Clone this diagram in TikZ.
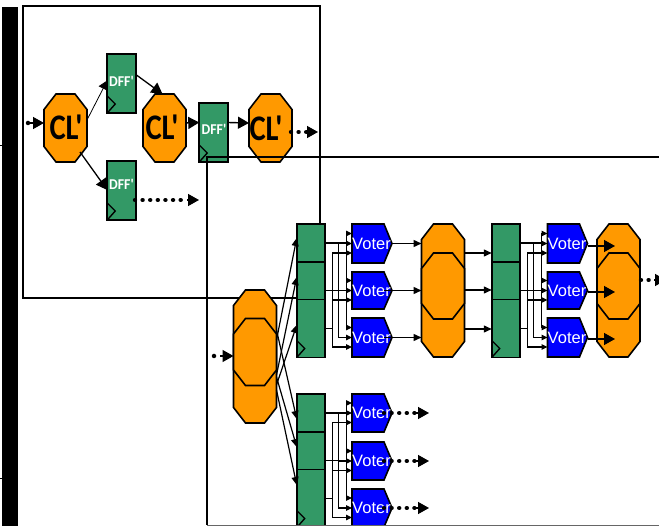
\documentclass[tikz,border=0pt]{standalone}
\usepackage{fontspec}
\setmainfont{Liberation Sans}
\newfontfamily\carl{Carlito}
\usetikzlibrary{arrows.meta,calc}
\definecolor{dgreen}{HTML}{339966}
\definecolor{dorange}{HTML}{FF9900}
\tikzset{
  ln/.style={line width=1.4pt,draw=black},
  arr/.style={ln,-{Triangle[length=8pt,width=7pt]}},
  sarr/.style={line width=1.2pt,draw=black,-{Triangle[length=6pt,width=5.5pt]}},
  barr/.style={line width=1.4pt,draw=black,-{Triangle[length=11pt,width=12pt]}},
  thinarr/.style={line width=.8pt,draw=black,-{Triangle[length=9pt,width=10pt]}},
  dots/.style={line width=4.4pt,draw=black,line cap=round,dash pattern=on .01pt off 7.6pt},
  octsh/.style={draw=black,line width=1.6pt,fill=dorange},
  anch/.style={inner sep=0pt,outer sep=0pt},
  cell/.style={draw=black,line width=1.6pt,fill=dgreen,inner sep=0pt,outer sep=0pt,minimum width=28.5pt},
  cltext/.style={font=\carl\bfseries\fontsize{36}{36}\selectfont,inner sep=0pt,xscale=.85},
  dfftext/.style={font=\carl\bfseries\fontsize{15}{15}\selectfont,text=white,inner sep=0pt,xscale=.92},
  votertext/.style={font=\fontsize{16.5}{16.5}\selectfont,text=white,inner sep=0pt},
  vsh/.style={draw=black,line width=1.6pt,fill=blue},
  vanchor/.style={inner sep=0pt,outer sep=0pt,minimum width=40pt,minimum height=38pt},
}
% octagon: #1 name, #2 x-centre, #3 y-centre, #4 half height
\newcommand\octa[4]{%
  \draw[octsh] ({#2-21.5},{#3-#4+15.5}) -- ({#2-9.5},{#3-#4}) -- ({#2+9.5},{#3-#4}) -- ({#2+21.5},{#3-#4+15.5})
     -- ({#2+21.5},{#3+#4-15.5}) -- ({#2+9.5},{#3+#4}) -- ({#2-9.5},{#3+#4}) -- ({#2-21.5},{#3+#4-15.5}) -- cycle;
  \node[anch,minimum width=43pt,minimum height={2*#4}] (#1) at (#2,#3) {};
}
% voter: #1 name, #2 x-centre, #3 y-centre, #4 half height
\newcommand\voter[4]{%
  \draw[vsh] ({#2-20},{#3-#4}) -- ({#2+12},{#3-#4}) -- ({#2+20},#3) -- ({#2+12},{#3+#4}) -- ({#2-20},{#3+#4}) -- cycle;
  \node[vanchor] (#1) at (#2,#3) {};
  \node[votertext] (#1t) at ({#2-.5},#3) {Voter};
}
\newcommand\clk[1]{\draw[ln] (#1.south west) ++(0,-17) -- ++(8,8) -- ++(-8,9);}
% wiring between stack #1 (cells #11..3) and voters #2 (#21..3)
\newcommand\wirebank[2]{%
  \coordinate (#1o1) at (#11.east);
  \coordinate (#1o2) at ($(#12.east)+(0,9.5)$);
  \coordinate (#1o3) at (#13.east);
  \foreach \v in {1,2,3}{
    \coordinate (#2\v a) at ($(#2\v.west)+(0,-10)$);
    \coordinate (#2\v b) at (#2\v.west);
    \coordinate (#2\v c) at ($(#2\v.west)+(0,9.5)$);
  }
  \path (#1o1) ++(21,0) coordinate (#1x1);
  \path (#1o2) ++(13,0) coordinate (#1x2);
  \path (#1o3) ++(7,0) coordinate (#1x3);
  \draw[ln] (#1o1) -- (#1x1);
  \draw[ln] (#1o2) -- (#1x2);
  \draw[ln] (#1o3) -- (#1x3);
  \draw[line width=1.2pt] (#1x1 |- #21a) -- (#1x1 |- #23a);
  \draw[line width=1.2pt] (#1x2 |- #21b) -- (#1x2 |- #23b);
  \draw[line width=1.2pt] (#1x3 |- #21c) -- (#1x3 |- #23c);
  \foreach \v in {1,2,3}{
    \draw[sarr] (#1x1 |- #2\v a) -- (#2\v a);
    \draw[sarr] (#1x2 |- #2\v b) -- (#2\v b);
    \draw[sarr] (#1x3 |- #2\v c) -- (#2\v c);
  }
}
% a stack of three cells #1 at x centre #2, top #3
\newcommand\stack[3]{%
  \node[cell,minimum height=38pt] (#11) at (#2,{#3+19}) {};
  \node[cell,minimum height=37.5pt] (#12) at (#2,{#3+56.75}) {};
  \node[cell,minimum height=58pt] (#13) at (#2,{#3+104.5}) {};
}
\begin{document}
\begin{tikzpicture}[x=1pt,y=-1pt]
\useasboundingbox (0,0) rectangle (659,526);
\begin{scope}
\clip (0,0) rectangle (659,526);
% black bar and ticks
\fill[black] (2,7) rectangle (18,526);
\draw[line width=.6pt] (0,145) -- (2,145);
\draw[line width=.6pt] (0,478) -- (2,478);
% upper frame
\draw[line width=1.4pt] (320,224) -- (320,6) -- (23,6) -- (23,298) -- (297,298);
% top-left part
\octa{c1}{65.5}{128}{34}
\octa{c2}{164.5}{128}{34}
\octa{c3}{270.5}{128}{34}
\node[cltext] (c1t) at (66,127) {CL'};
\node[cltext] (c2t) at (162,127) {CL'};
\node[cltext] (c3t) at (266,128) {CL'};
\node[cell,minimum height=59pt] (d1) at (121.5,83.5) {};
\node[cell,minimum height=59pt] (d2) at (121.5,190.5) {};
\node[cell,minimum height=59pt] (d3) at (213.5,132.5) {};
\node[dfftext] (d1t) at (121.5,81) {DFF'};
\node[dfftext] (d2t) at (121.5,184) {DFF'};
\node[dfftext] (d3t) at (214,129) {DFF'};
\clk{d1}\clk{d2}\clk{d3}
\coordinate (in1) at (28,123);
\node[fill=black,circle,inner sep=0pt,minimum size=4.5pt] (in1d) at (in1) {};
\draw[barr] (in1) -- (c1.west |- in1);
\draw[thinarr] ($(c1.east)+(0,-8)$) -- ($(d1.west)+(0,-3)$);
\draw[barr,line width=1.3pt] ($(c1.south east)+(-7,-10)$) -- ($(d2.west)+(0,-0.5)$);
\draw[barr,line width=1.3pt] ($(d1.east)+(0,-9)$) -- ($(c2.north)+(-2,0)$);
\draw[barr] ($(c2.east)+(0,-5)$) -- ($(d3.west)+(0,-10)$);
\draw[barr] ($(d3.east)+(0,-10)$) -- ($(c3.west)+(0,-5)$);
\coordinate (c3o) at (318,132);
\coordinate (c3om) at (307,132);
\draw[dots] (291,132) -- (c3om);
\draw[barr] (c3om) -- (c3o);
\coordinate (d2o) at (199,200);
\coordinate (d2om) at (187,200);
\draw[dots] (135,200) -- (d2om);
\draw[barr] (d2om) -- (d2o);
% big left octagon
\octa{bo}{255}{356.5}{66.5}
\octa{bi}{255}{352}{33.5}
\coordinate (bin) at (220,356);
\node[fill=black,circle,inner sep=0pt,minimum size=4.5pt] (bind) at (214,356) {};
\draw[barr] (bin) -- (bi.west |- bin);
% stacks
\stack{sa}{311}{224}
\stack{sb}{311}{394}
\stack{sc}{506}{224}
\clk{sa3}\clk{sc3}
\clk{sb3}
% voters
\voter{va1}{372}{243.5}{19.5}
\voter{va2}{372}{290.5}{18.5}
\voter{va3}{372}{337.5}{19.5}
\voter{vb1}{372}{413}{19}
\voter{vb2}{372}{461}{19}
\voter{vb3}{372}{508}{19}
\voter{vc1}{567.5}{243.5}{19.5}
\voter{vc2}{567.5}{290.5}{18.5}
\voter{vc3}{567.5}{337.5}{19.5}
\wirebank{sa}{va}
\wirebank{sb}{vb}
\wirebank{sc}{vc}
% fan out from big octagon
\draw[arr,line width=1.2pt] (bo.east |- 0,340) -- (sa1.west |- 0,238);
\draw[arr,line width=1.2pt] (bo.east |- 0,375) -- (sa2.west |- 0,277);
\draw[arr,line width=1.2pt] (bo.east |- 0,385) -- (sa3.west |- 0,325);
\draw[arr,line width=1.2pt] (bo.east |- 0,330) -- (sb1.west |- 0,419);
\draw[arr,line width=1.2pt] (bo.east |- 0,377) -- (sb2.west |- 0,447);
\draw[arr,line width=1.2pt] (bo.east |- 0,390) -- (sb3.west |- 0,485);
% middle octagon
\octa{mo}{443}{290.5}{66.5}
\octa{mi}{443}{286}{33}
\draw[arr] (va1.east) -- (mo.west |- va1.east);
\draw[arr] ($(va2.east)+(-8,0)$) -- (mo.west |- va2.east);
\draw[arr] ($(va3.east)+(-8,0)$) -- (mo.west |- va3.east);
\draw[arr] (mo.east |- 0,253) -- (sc1.west |- 0,253);
\draw[arr] (mo.east |- 0,290) -- (sc2.west |- 0,290);
\draw[arr] (mo.east |- 0,329) -- (sc3.west |- 0,329);
% right octagon
\octa{ro}{618.5}{290.5}{66.5}
\octa{ri}{618.5}{286}{33}
\coordinate (rt1) at (615,246);
\coordinate (rt2) at (615,292);
\coordinate (rt3) at (615,339);
\draw[barr] (vc1.east |- rt1) -- (rt1);
\draw[barr] (vc2.east |- rt2) -- (rt2);
\draw[barr] (vc3.east |- rt3) -- (rt3);
\coordinate (ro1) at (641,280);
\coordinate (ro2) at (649,280);
\draw[dots] (ro1) -- (ro2);
\coordinate (ro3) at (666,280);
\draw[barr] (654,280) -- (ro3);
% dotted outputs of the lower voters
\foreach \v in {1,2,3}{
  \coordinate (e\v) at ($(vb\v.east)+(37,0)$);
  \coordinate (m\v) at ($(vb\v.east)+(24,0)$);
  \draw[dots] ($(vb\v.east)+(-8,0)$) -- (m\v);
  \draw[barr] (m\v) -- (e\v);
}
% lower frame drawn over everything
\draw[line width=1.3pt] (660,157) -- (207,157) -- (207,525);
\draw[line width=.8pt,draw=black!60] (207,525.5) -- (660,525.5);
\end{scope}
\end{tikzpicture}
\end{document}
